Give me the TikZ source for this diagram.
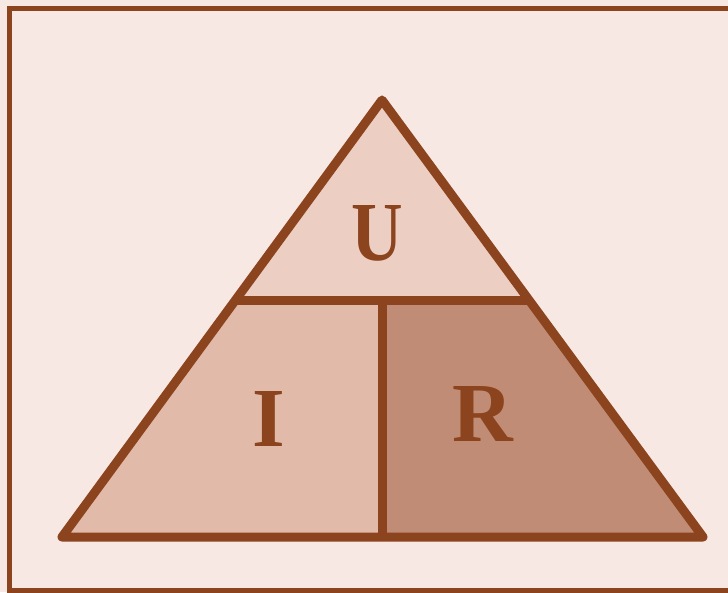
\documentclass[tikz,border=0pt]{standalone}
\usepackage{fontspec}
\setmainfont{Liberation Serif}
\definecolor{bgc}{RGB}{247,232,228}
\definecolor{linec}{RGB}{139,68,30}
\definecolor{topc}{RGB}{236,206,195}
\definecolor{leftc}{RGB}{226,186,170}
\definecolor{rightc}{RGB}{193,140,117}
\begin{document}
\begin{tikzpicture}[x=1pt,y=1pt,
  edge/.style={draw=linec,line width=9pt,line join=round,line cap=round},
  letter/.style={text=linec,font=\fontsize{84}{84}\selectfont\bfseries,inner sep=0pt}]
\useasboundingbox (0,0) rectangle (728,592);
\fill[bgc] (0,0) rectangle (728,592);
\draw[linec,line width=5pt] (9,1.5) rectangle (740,583);
% key points
\coordinate (A) at (382,492);
\coordinate (L) at (62,55);
\coordinate (R) at (703,55);
\coordinate (ML) at (235.2,291);
\coordinate (MR) at (529.8,291);
\coordinate (MC) at (382,291);
\coordinate (BC) at (382,55);
% fills
\fill[topc] (A) -- (ML) -- (MR) -- cycle;
\fill[leftc] (ML) -- (MC) -- (BC) -- (L) -- cycle;
\fill[rightc] (MC) -- (MR) -- (R) -- (BC) -- cycle;
% lines
\draw[edge] (A) -- (L) -- (R) -- cycle;
\draw[edge,line cap=butt] (ML) -- (MR);
\draw[edge,line cap=butt] (MC) -- (BC);
% letters
\node[letter,xscale=0.85] (u) at (377,359) {U};
\node[letter] (i) at (269,173) {I};
\node[letter] (r) at (483,178) {R};
\end{tikzpicture}
\end{document}
